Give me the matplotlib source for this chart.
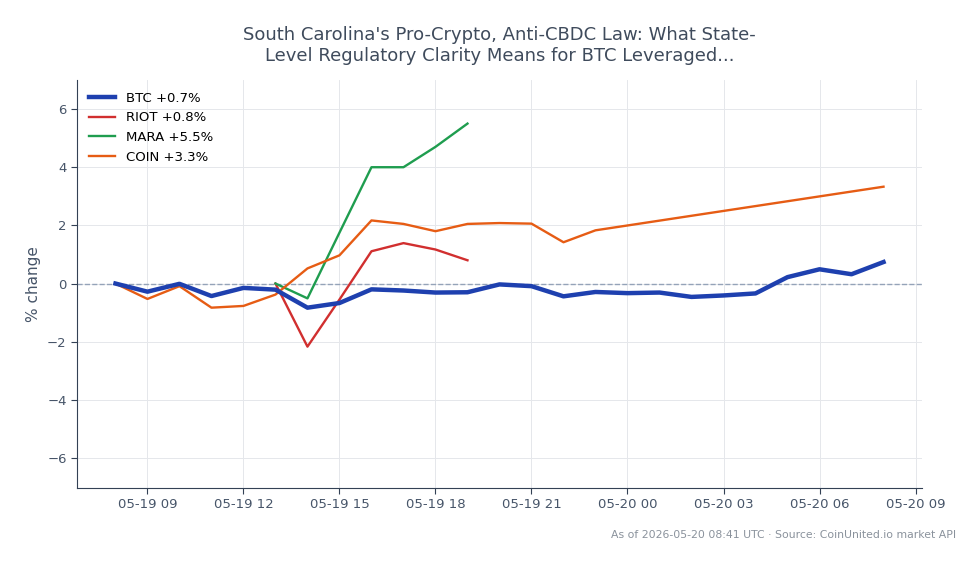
import numpy as np
import pandas as pd
import matplotlib
matplotlib.use("Agg")
import matplotlib.pyplot as plt
import matplotlib.dates as mdates

# hourly timestamps (UTC)
btc_times = pd.date_range("2026-05-19 08:00", "2026-05-20 08:00", freq="h")
btc_vals = [0.0, -0.28, -0.01, -0.43, -0.15, -0.21, -0.83, -0.67, -0.2, -0.24, -0.31, -0.3,
            -0.03, -0.09, -0.44, -0.29, -0.33, -0.31, -0.46, -0.41, -0.34, 0.22, 0.49, 0.32, 0.74]

riot_times = pd.date_range("2026-05-19 13:00", "2026-05-19 19:00", freq="h")
riot_vals = [0.0, -2.17, -0.55, 1.11, 1.39, 1.17, 0.8]

mara_times = pd.date_range("2026-05-19 13:00", "2026-05-19 19:00", freq="h")
mara_vals = [0.0, -0.51, 1.75, 4.0, 4.0, 4.7, 5.5]

coin_times = list(pd.date_range("2026-05-19 08:00", "2026-05-19 23:00", freq="h")) + [pd.Timestamp("2026-05-20 08:00")]
coin_vals = [0.0, -0.53, -0.09, -0.83, -0.77, -0.38, 0.52, 0.97, 2.17, 2.05, 1.8, 2.05,
             2.08, 2.06, 1.42, 1.83, 3.33]

title = "South Carolina's Pro-Crypto, Anti-CBDC Law: What State-\nLevel Regulatory Clarity Means for BTC Leveraged..."
footer = "As of 2026-05-20 08:41 UTC · Source: CoinUnited.io market API"

text_col = "#475569"
fig = plt.figure(figsize=(9.79, 5.64), dpi=100)
ax = fig.add_axes([0.0787, 0.1348, 0.863, 0.7234])

ax.axhline(0, color="#94a3b8", lw=1, ls="--", zorder=1)
ax.plot(btc_times, btc_vals, color="#1e40af", lw=3.2, label="BTC +0.7%", zorder=4)
ax.plot(riot_times, riot_vals, color="#d12f2f", lw=1.7, label="RIOT +0.8%", zorder=3)
ax.plot(mara_times, mara_vals, color="#1f9d4f", lw=1.7, label="MARA +5.5%", zorder=3)
ax.plot(coin_times, coin_vals, color="#e65c14", lw=1.7, label="COIN +3.3%", zorder=3)

ax.set_ylim(-7.03, 7.0)
ax.set_yticks([-6, -4, -2, 0, 2, 4, 6])
ax.xaxis.set_major_locator(mdates.HourLocator(byhour=range(0, 24, 3)))
ax.xaxis.set_major_formatter(mdates.DateFormatter("%m-%d %H"))

ax.grid(True, color="#e5e7eb", lw=0.7)
ax.set_axisbelow(True)
for s in ["top", "right"]:
    ax.spines[s].set_visible(False)
for s in ["left", "bottom"]:
    ax.spines[s].set_color("#334155")
ax.tick_params(colors=text_col, labelsize=9.5)
ax.tick_params(axis="both", length=4, color="#334155")
ax.set_ylabel("% change", color=text_col, fontsize=11)

ax.set_title(title, color="#3f4b5c", fontsize=13, pad=14)
ax.legend(loc="upper left", frameon=False, fontsize=9.5)

fig.text(0.977, 0.052, footer, ha="right", va="center", color="#8a929c", fontsize=7.8)

fig.savefig("out.png", dpi=100)
